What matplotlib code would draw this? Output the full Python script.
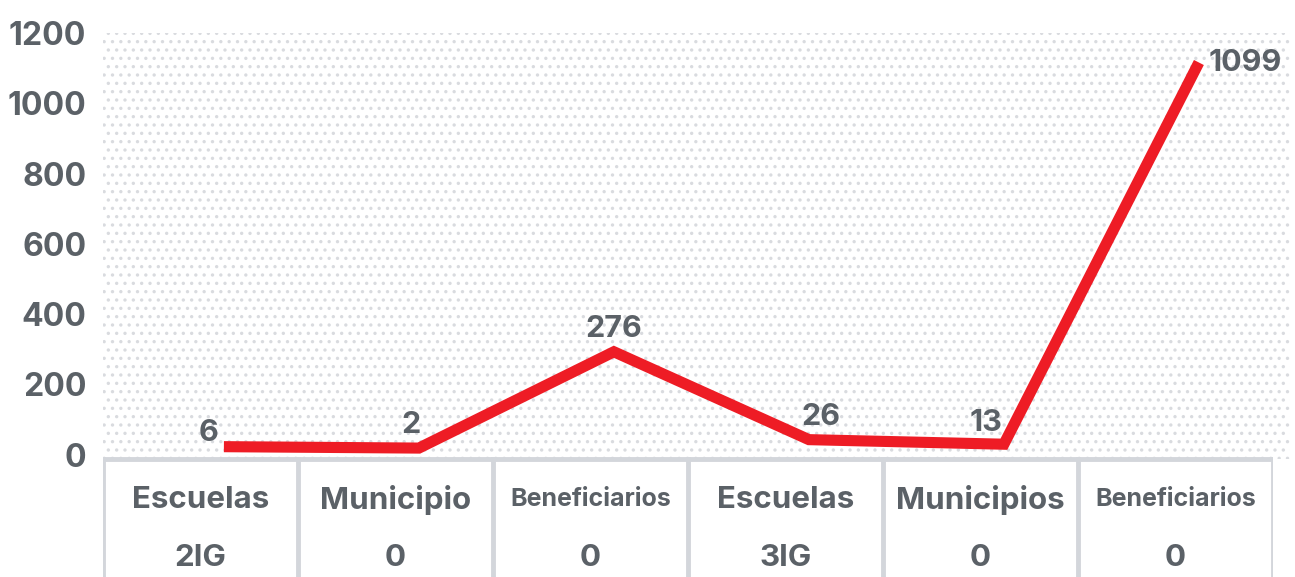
import matplotlib.pyplot as plt
from matplotlib.patches import Rectangle
from matplotlib.transforms import ScaledTranslation

plt.rcParams['font.family'] = ['Inter', 'DejaVu Sans']
plt.rcParams['hatch.linewidth'] = 1.2

categories = ['Escuelas', 'Municipio', 'Beneficiarios', 'Escuelas', 'Municipios', 'Beneficiarios']
sub_labels = ['2IG', '0', '0', '3IG', '0', '0']
values = [6, 2, 276, 26, 13, 1099]
yticks = [0, 200, 400, 600, 800, 1000, 1200]

TXT = '#5b6167'
RED = '#ee1c25'
GRID = '#d3d6db'

fig = plt.figure(figsize=(12.95, 5.77), dpi=100)
W, H = 1295, 577

# grafica principal
ax = fig.add_axes([103 / W, (H - 459) / H, (1290 - 103) / W, (459 - 33) / H])
ax.set_xlim(-0.5, -0.5 + 1187 / 195)
ax.set_ylim(-12, 1200)
for s in ax.spines.values():
    s.set_visible(False)
ax.add_patch(Rectangle((0, 0), 1, 1, transform=ax.transAxes, facecolor='white',
                       edgecolor='#d9dbdf', hatch='..', lw=0, zorder=0))
ax.set_xticks([])
ax.set_yticks(yticks)
ax.set_yticklabels([str(t) for t in yticks], fontsize=23, fontweight='bold', color=TXT)
ax.tick_params(axis='y', length=0, pad=12)

xs = [i + 0.12 for i in range(len(values))]
# la linea va un poco por encima de la base
up = ax.transData + ScaledTranslation(0, 6 / 100, fig.dpi_scale_trans)
ax.plot(xs, values, color=RED, lw=8, solid_capstyle='butt', solid_joinstyle='miter',
        zorder=3, transform=up)

# etiquetas de datos
lab_style = dict(fontsize=22, fontweight='bold', color=TXT, zorder=4, transform=up)
ax.text(xs[0] - 0.03, values[0], str(values[0]), ha='right', va='bottom', **lab_style)
ax.text(xs[1] - 0.04, values[1] + 25, str(values[1]), ha='center', va='bottom', **lab_style)
ax.text(xs[2], values[2] + 25, str(values[2]), ha='center', va='bottom', **lab_style)
ax.text(xs[3] + 0.06, values[3] + 25, str(values[3]), ha='center', va='bottom', **lab_style)
ax.text(xs[4] - 0.01, values[4] + 20, str(values[4]), ha='right', va='bottom', **lab_style)
ax.text(xs[5] + 0.05, values[5] - 40, str(values[5]), ha='left', va='bottom', **lab_style)

# tabla inferior
ax2 = fig.add_axes([103 / W, 0, 1170 / W, 120 / H])
ax2.set_xlim(-0.5, 5.5)
ax2.set_ylim(0, 1)
ax2.axis('off')
for i in range(len(categories) + 1):
    ax2.axvline(i - 0.5, color=GRID, lw=3.5)
ax2.axhline(0.985, color=GRID, lw=3.5)
for i, (c, s) in enumerate(zip(categories, sub_labels)):
    fs = 18 if c == 'Beneficiarios' else 22.5
    ax2.text(i, 0.645, c, ha='center', va='center', fontsize=fs, fontweight='bold', color=TXT)
    ax2.text(i, 0.155, s, ha='center', va='center', fontsize=22.5, fontweight='bold', color=TXT)

fig.savefig('out.png', dpi=100)
